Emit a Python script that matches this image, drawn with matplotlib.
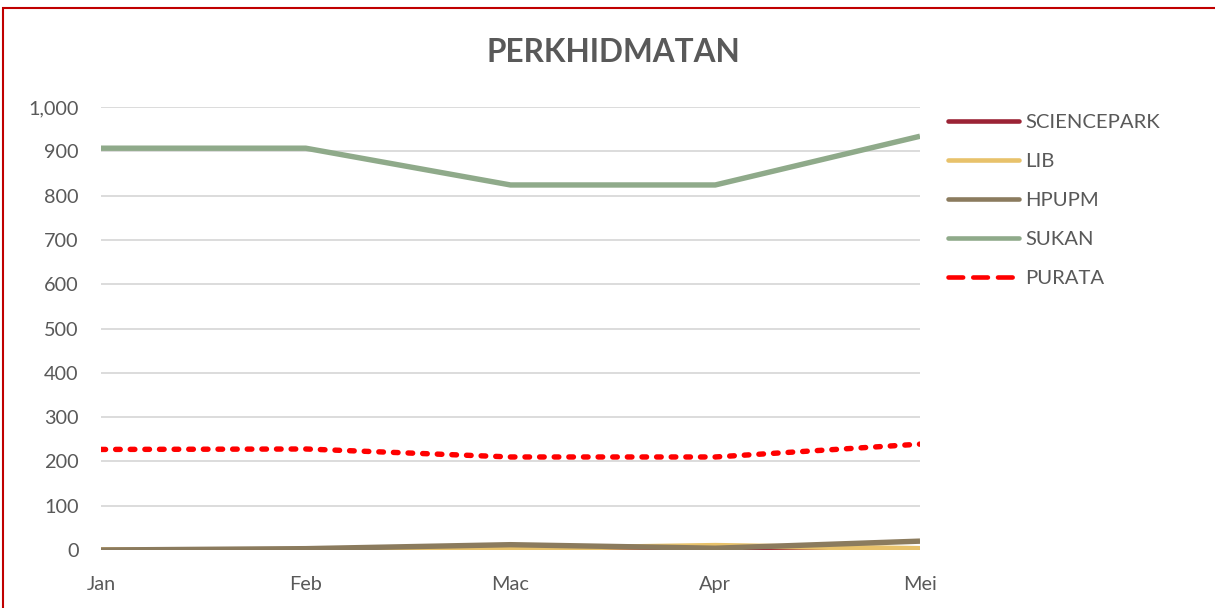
import matplotlib
matplotlib.use("Agg")
import matplotlib.pyplot as plt
from matplotlib.patches import Rectangle
from matplotlib.lines import Line2D
from matplotlib.ticker import FuncFormatter
import numpy as np

months = ["Jan", "Feb", "Mac", "Apr", "Mei"]
sciencepark = [0, 0, 0, 0, 0]
lib = [0, 0, 3, 10, 3]
hpupm = [0, 3, 12, 4, 20]
sukan = [907, 907, 824, 824, 934]
purata = [227, 228, 210, 210, 239]

series_names = ["SCIENCEPARK", "LIB", "HPUPM", "SUKAN", "PURATA"]
series_vals = [sciencepark, lib, hpupm, sukan, purata]
colors = ["#9B2335", "#E8C26B", "#8B7B5E", "#8FAA8A", "#FF0000"]

plt.rcParams['font.family'] = ['Lato', 'DejaVu Sans']
TXT = "#595959"

fig = plt.figure(figsize=(12.15, 6.08), dpi=100)
ax = fig.add_axes([101/1215, 1-550/608, (920-101)/1215, (550-107)/608])

x = np.arange(len(months))

lw = 3.9
for name, vals, c in zip(series_names, series_vals, colors):
    if name == "PURATA":
        ax.plot(x, vals, color=c, lw=lw, linestyle=(0, (0.85, 1.85)),
                dash_capstyle="round", dash_joinstyle="round", zorder=5)
    else:
        ax.plot(x, vals, color=c, lw=lw, solid_capstyle="butt",
                solid_joinstyle="round", zorder=4)

ax.set_xlim(0, len(months) - 1)
ax.set_ylim(0, 1000)
ax.set_yticks(range(0, 1001, 100))
ax.yaxis.set_major_formatter(FuncFormatter(lambda v, pos: f"{int(v):,}"))
ax.set_xticks(x)
ax.set_xticklabels(months)
ax.grid(axis="y", color="#D9D9D9", lw=1.3, zorder=0)
ax.set_axisbelow(True)
for s in ax.spines.values():
    s.set_visible(False)
ax.tick_params(axis="both", length=0, labelsize=14.3, labelcolor=TXT)
ax.tick_params(axis="y", pad=16)
ax.tick_params(axis="x", pad=18.5)

fig.text(613/1215, 1-53/608, "PERKHIDMATAN", ha="center", va="center",
         fontsize=22.7, fontweight="bold", color=TXT)

handles = []
for name, c in zip(series_names, colors):
    if name == "PURATA":
        h = Line2D([], [], color=c, lw=3.3, linestyle=(0, (3.2, 2.2)), dash_capstyle="round")
    else:
        h = Line2D([], [], color=c, lw=3.3, solid_capstyle="round")
    handles.append(h)
leg = fig.legend(handles, series_names, loc="upper left",
                 bbox_to_anchor=(930/1215, 1-96/608), frameon=False,
                 fontsize=14.6, labelcolor=TXT, handlelength=3.5, handletextpad=0.3,
                 labelspacing=1.07)

fig.patches.append(Rectangle((3/1215, -0.1), 1.2, 1-8/608 + 0.1, transform=fig.transFigure,
                             fill=False, edgecolor="#C00000", lw=1.5))

fig.savefig("out.png", dpi=100)
